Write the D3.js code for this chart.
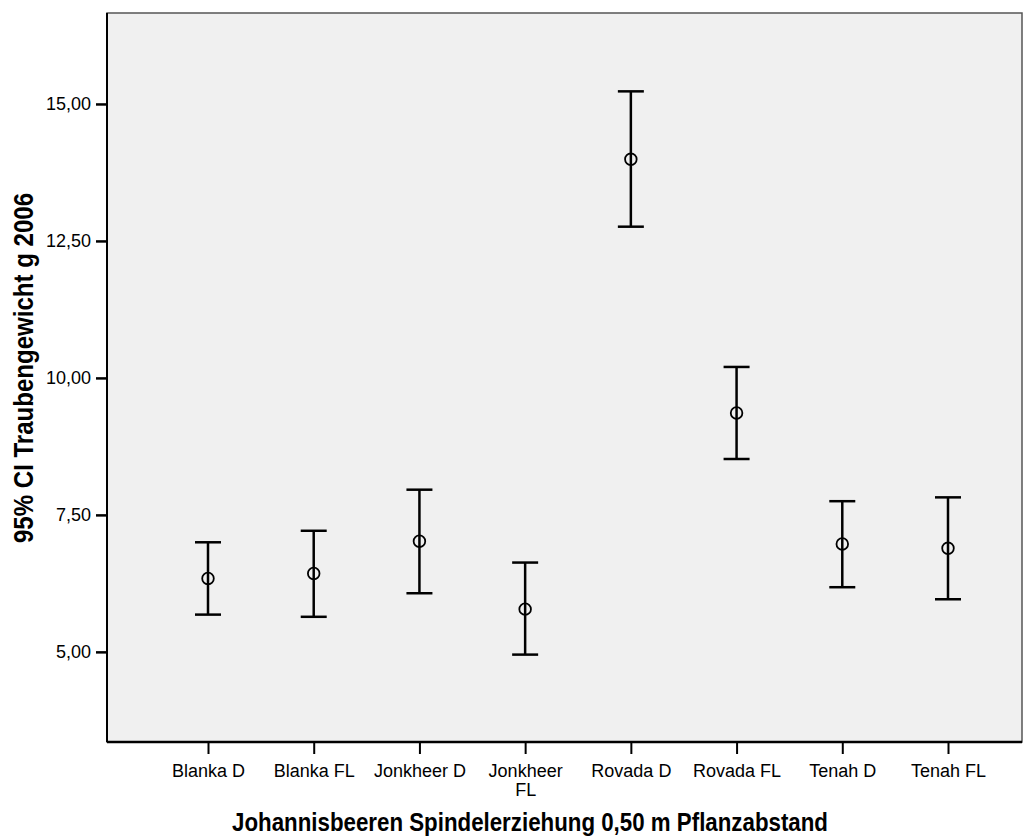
<!DOCTYPE html>
<html>
<head>
<meta charset="utf-8">
<script src="https://cdn.jsdelivr.net/npm/d3@7"></script>
<style>
  body { margin: 0; background: #fff; }
  text { font-family: "Liberation Sans", Arial, sans-serif; }
</style>
</head>
<body>
<script>
const categories = ["Blanka D", "Blanka FL", "Jonkheer D", "Jonkheer FL", "Rovada D", "Rovada FL", "Tenah D", "Tenah FL"];
const means = [6.34, 6.43, 7.02, 5.78, 13.99, 9.36, 6.97, 6.89];
const lower = [5.68, 5.64, 6.07, 4.95, 12.76, 8.52, 6.18, 5.96];
const upper = [7.00, 7.21, 7.96, 6.63, 15.23, 10.20, 7.75, 7.82];
const yTicks = [5, 7.5, 10, 12.5, 15];

const W = 1034, H = 839;
const plot = { left: 107, right: 1022, top: 13, bottom: 742 };

const svg = d3.select("body").append("svg")
  .attr("width", W)
  .attr("height", H);

const x = d3.scalePoint()
  .domain(categories)
  .range([208, 948]);

const y = d3.scaleLinear()
  .domain([3.355, 16.66])
  .range([plot.bottom, plot.top]);

// plot background + frame
svg.append("rect")
  .attr("x", plot.left)
  .attr("y", plot.top)
  .attr("width", plot.right - plot.left)
  .attr("height", plot.bottom - plot.top)
  .attr("fill", "#f0f0f0")
  .attr("stroke", "#555")
  .attr("stroke-width", 1.5);

const fmt = d => d3.format(".2f")(d).replace(".", ",");

// y axis
svg.append("g")
  .attr("transform", `translate(${plot.left},0)`)
  .call(d3.axisLeft(y).tickValues(yTicks).tickFormat(fmt).tickSize(11).tickPadding(5))
  .call(g => g.select(".domain").attr("d", `M0,${plot.top}V${plot.bottom}`).attr("stroke", "#000").attr("stroke-width", 2))
  .call(g => g.selectAll(".tick line").attr("stroke-width", 2.5))
  .call(g => g.selectAll(".tick text").attr("font-size", 18).attr("fill", "#000"));

// x axis
const xAxis = svg.append("g")
  .attr("transform", `translate(0,${plot.bottom})`)
  .call(d3.axisBottom(x).tickSize(12).tickPadding(10))
  .call(g => g.select(".domain").attr("d", `M${plot.left},0H${plot.right}`).attr("stroke", "#000").attr("stroke-width", 2.5))
  .call(g => g.selectAll(".tick line").attr("stroke-width", 2));

xAxis.selectAll(".tick text")
  .attr("font-size", 18)
  .attr("fill", "#000")
  .each(function(d) {
    if (d === "Jonkheer FL") {
      const t = d3.select(this);
      const dy = t.attr("dy");
      t.text(null);
      t.append("tspan").attr("x", 0).attr("dy", dy).text("Jonkheer");
      t.append("tspan").attr("x", 0).attr("dy", "1.08em").text("FL");
    }
  });

// error bars
const bars = svg.append("g")
  .attr("stroke", "#000")
  .attr("stroke-width", 2.5)
  .attr("fill", "none")
  .selectAll("g")
  .data(categories.map((c, i) => ({ c, m: means[i], lo: lower[i], hi: upper[i] })))
  .join("g");

bars.append("line")
  .attr("x1", d => x(d.c)).attr("x2", d => x(d.c))
  .attr("y1", d => y(d.lo)).attr("y2", d => y(d.hi));

bars.append("line")
  .attr("x1", d => x(d.c) - 13).attr("x2", d => x(d.c) + 13)
  .attr("y1", d => y(d.hi)).attr("y2", d => y(d.hi));

bars.append("line")
  .attr("x1", d => x(d.c) - 13).attr("x2", d => x(d.c) + 13)
  .attr("y1", d => y(d.lo)).attr("y2", d => y(d.lo));

bars.append("circle")
  .attr("cx", d => x(d.c))
  .attr("cy", d => y(d.m))
  .attr("r", 5.8)
  .attr("stroke-width", 1.8);

// titles (slightly condensed, as in the original)
svg.append("text")
  .attr("transform", `translate(33,368) rotate(-90)`)
  .attr("text-anchor", "middle")
  .attr("font-size", 27)
  .attr("font-weight", "bold")
  .attr("textLength", 350)
  .attr("lengthAdjust", "spacingAndGlyphs")
  .text("95% CI Traubengewicht g 2006");

svg.append("text")
  .attr("x", 530)
  .attr("y", 831)
  .attr("text-anchor", "middle")
  .attr("font-size", 26)
  .attr("font-weight", "bold")
  .attr("textLength", 596)
  .attr("lengthAdjust", "spacingAndGlyphs")
  .text("Johannisbeeren Spindelerziehung 0,50 m Pflanzabstand");
</script>
</body>
</html>
